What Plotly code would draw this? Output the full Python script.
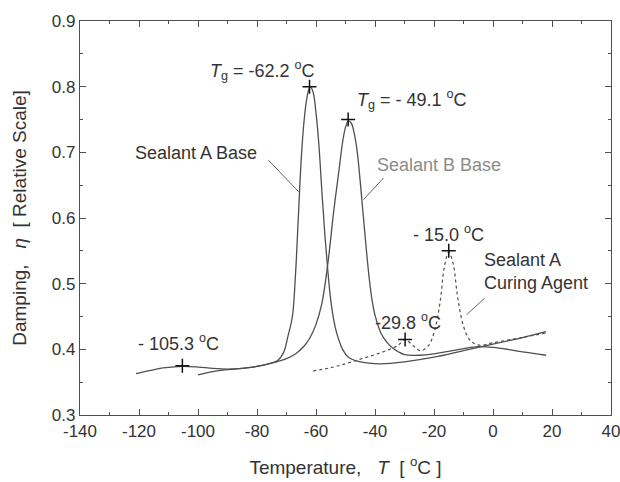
import plotly.graph_objects as go

# Sealant A Base damping curve
a_base_T = [-100, -95, -90, -85, -80, -76, -73, -71, -69.5, -68, -67, -66, -65, -64, -63, -62,
            -61, -60, -59, -58, -57, -56, -55, -54, -53, -51, -49, -46, -42, -38, -30, -20,
            -10, 0, 10, 18]
a_base_eta = [0.361, 0.366, 0.369, 0.371, 0.374, 0.378, 0.383, 0.395, 0.420, 0.450, 0.51, 0.60,
              0.69, 0.75, 0.785, 0.800, 0.792, 0.76, 0.71, 0.64, 0.575, 0.52, 0.475, 0.445,
              0.425, 0.400, 0.388, 0.382, 0.379, 0.378, 0.381, 0.388, 0.398, 0.408, 0.418, 0.427]

# Sealant B Base damping curve
b_base_T = [-121, -116, -111, -105.3, -100, -95, -90, -85, -80, -75, -70, -67, -64, -62, -60,
            -58, -56, -54, -52, -51, -50, -49, -48, -47, -46, -45, -44, -43, -42, -41, -40,
            -38, -36, -34, -32, -30, -25, -20, -15, -10, -5, 0, 5, 10, 18]
b_base_eta = [0.363, 0.368, 0.372, 0.374, 0.373, 0.371, 0.370, 0.371, 0.374, 0.379, 0.386,
              0.393, 0.405, 0.418, 0.438, 0.47, 0.53, 0.61, 0.68, 0.715, 0.738, 0.748, 0.744,
              0.728, 0.700, 0.655, 0.605, 0.555, 0.51, 0.475, 0.452, 0.425, 0.411, 0.402,
              0.396, 0.392, 0.391, 0.393, 0.397, 0.401, 0.404, 0.403, 0.400, 0.396, 0.391]

# Sealant A Curing Agent damping curve
cure_T = [-61, -55, -50, -45, -40, -35, -32, -29.8, -27, -24.5, -22, -20, -18, -16.5, -15,
          -13.5, -12, -10, -8, -6, -4, 0, 10, 18]
cure_eta = [0.367, 0.372, 0.378, 0.385, 0.392, 0.400, 0.407, 0.415, 0.405, 0.398, 0.405, 0.425,
            0.47, 0.525, 0.548, 0.53, 0.48, 0.435, 0.415, 0.408, 0.406, 0.410, 0.418, 0.425]

# Marked transition points
mark_T = [-105.3, -62.2, -49.1, -29.8, -15.0]
mark_eta = [0.375, 0.800, 0.750, 0.415, 0.550]

x_ticks = [-140, -120, -100, -80, -60, -40, -20, 0, 20, 40]
y_ticks = [0.3, 0.4, 0.5, 0.6, 0.7, 0.8, 0.9]

FONT = "Liberation Sans, Arial, sans-serif"
INK = "#333333"
LINE = "#4f4f4f"

fig = go.Figure()
fig.add_trace(go.Scatter(x=a_base_T, y=a_base_eta, mode="lines", line_shape="spline",
                         line=dict(color=LINE, width=1.3), name="Sealant A Base"))
fig.add_trace(go.Scatter(x=b_base_T, y=b_base_eta, mode="lines", line_shape="spline",
                         line=dict(color=LINE, width=1.3), name="Sealant B Base"))
fig.add_trace(go.Scatter(x=cure_T, y=cure_eta, mode="lines", line_shape="spline",
                         line=dict(color=LINE, width=1.2, dash="dot"),
                         name="Sealant A Curing Agent"))
fig.add_trace(go.Scatter(x=mark_T, y=mark_eta, mode="markers",
                         marker=dict(symbol="cross-thin", size=10,
                                     line=dict(color="#111111", width=1.5)),
                         name="marks"))

labels = [
    (-78.3, 0.825, f"<i>T</i><sub>g</sub> = {mark_T[1]:.1f} <sup>o</sup>C", INK, "center"),
    (-27.4, 0.780, f"<i>T</i><sub>g</sub> = - {abs(mark_T[2]):.1f} <sup>o</sup>C", INK, "center"),
    (-100.8, 0.699, "Sealant A Base", INK, "center"),
    (-18.3, 0.681, "Sealant B Base", "#8c8c8c", "center"),
    (-15.2, 0.577, f"- {abs(mark_T[4]):.1f} <sup>o</sup>C", INK, "center"),
    (-28.9, 0.442, f"-{abs(mark_T[3]):.1f} <sup>o</sup>C", INK, "center"),
    (-106.7, 0.411, f"- {abs(mark_T[0]):.1f} <sup>o</sup>C", INK, "center"),
]
for x, y, txt, col, anc in labels:
    fig.add_annotation(x=x, y=y, text=txt, showarrow=False, xanchor=anc, yanchor="middle",
                       font=dict(family=FONT, size=18, color=col))
fig.add_annotation(x=-3.7, y=0.518, text="Sealant A<br>Curing Agent", showarrow=False,
                   xanchor="left", yanchor="middle", align="left",
                   font=dict(family=FONT, size=18, color=INK))

# leader lines from labels to curves
for x0, y0, x1, y1 in [(-76.1, 0.688, -65.9, 0.640),
                       (-37.1, 0.661, -43.9, 0.628),
                       (-2.8, 0.478, -8.9, 0.453)]:
    fig.add_shape(type="line", x0=x0, y0=y0, x1=x1, y1=y1, xref="x", yref="y",
                  line=dict(color="#666666", width=1))

axis_common = dict(showgrid=False, zeroline=False, showline=True, linecolor=LINE,
                   linewidth=1.3, mirror="ticks", ticks="inside", ticklen=6, tickwidth=1.2,
                   tickcolor=LINE, ticklabeloverflow="allow", automargin=False,
                   tickfont=dict(family=FONT, size=17, color=INK))

fig.update_xaxes(range=[-140, 40], tickvals=x_ticks, ticktext=[str(v) for v in x_ticks],
                 minor=dict(dtick=10, ticks="inside", ticklen=3, tickcolor=LINE),
                 title=dict(text="Temperature,   <i>T</i>  [ <sup>o</sup>C ]", standoff=21,
                            font=dict(family=FONT, size=19, color=INK)),
                 **axis_common)
fig.update_yaxes(range=[0.3, 0.9], tickvals=y_ticks, ticktext=[f"{v:.1f}" for v in y_ticks],
                 minor=dict(dtick=0.05, ticks="inside", ticklen=3, tickcolor=LINE),
                 title=dict(text="Damping,   <i>η</i>  [ Relative Scale]", standoff=20,
                            font=dict(family=FONT, size=19, color=INK)),
                 **axis_common)

fig.update_layout(width=620, height=482, margin=dict(l=80, r=9, t=21, b=67),
                  paper_bgcolor="white", plot_bgcolor="white", showlegend=False)

fig.write_html("out.html")
